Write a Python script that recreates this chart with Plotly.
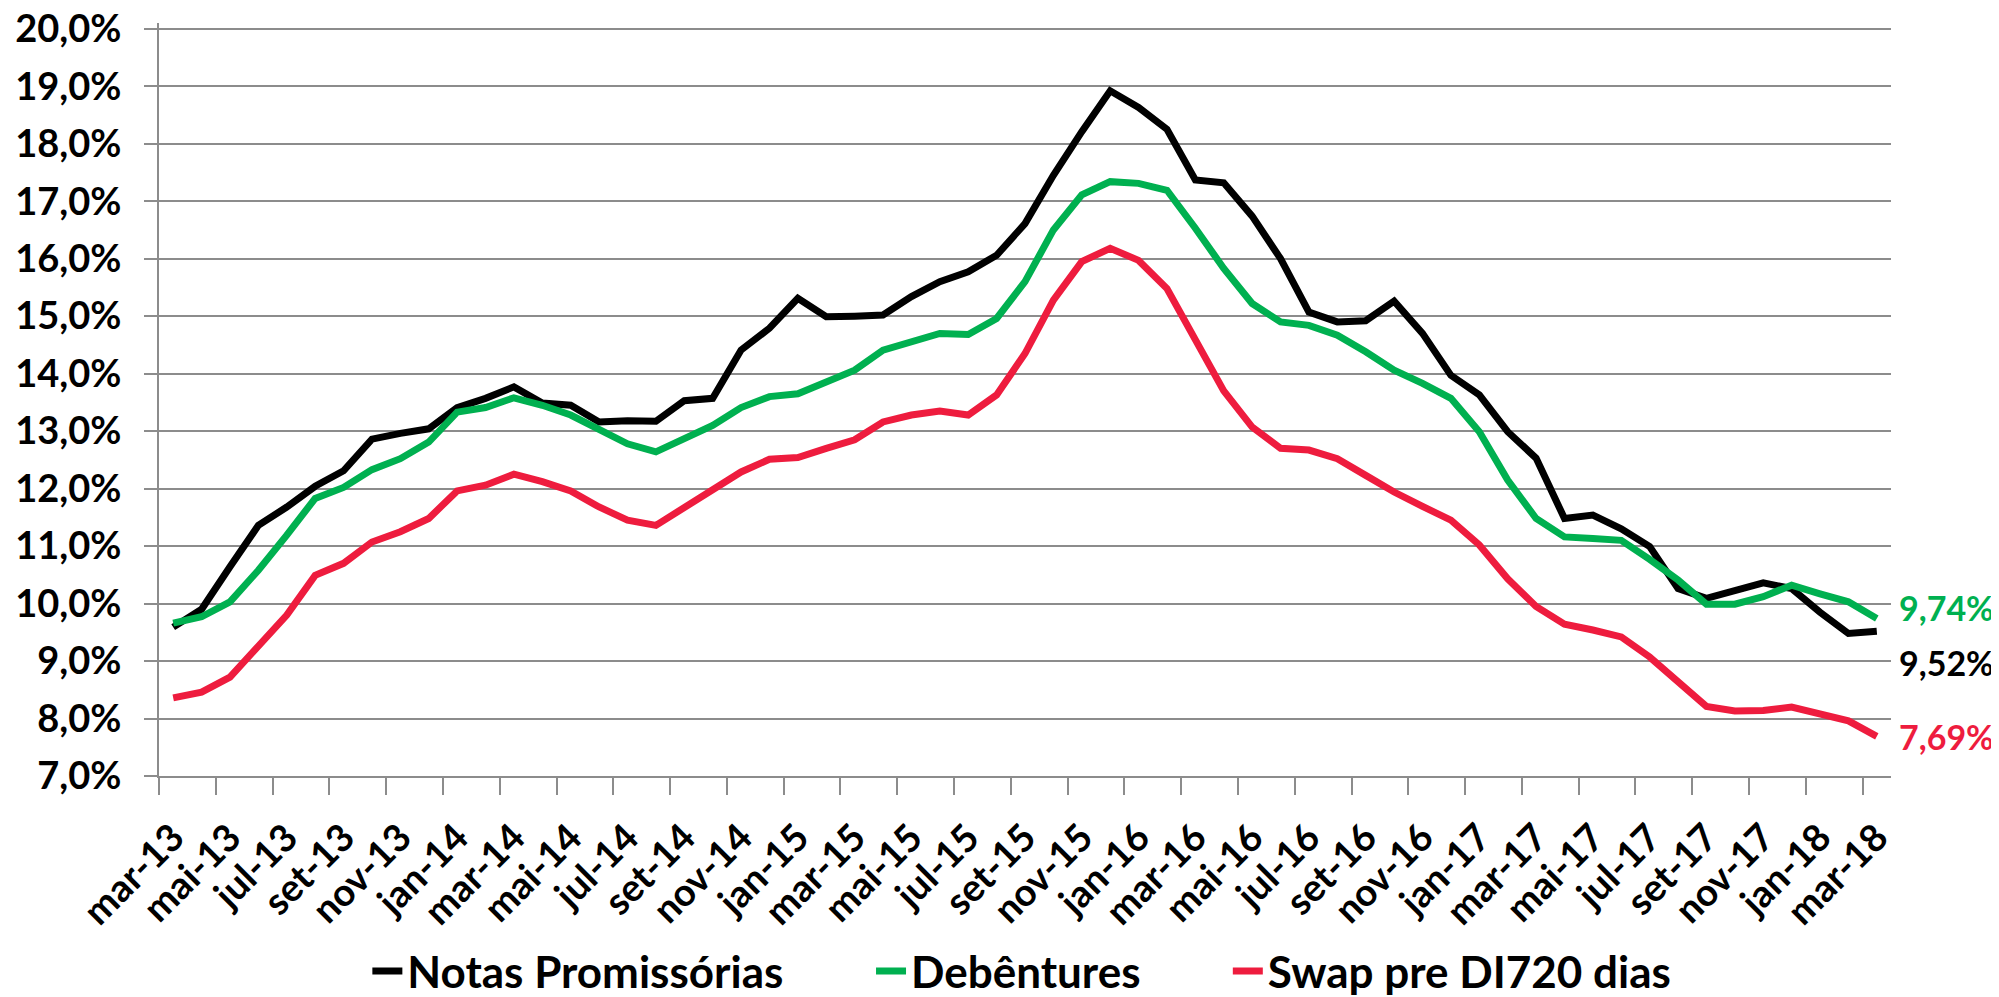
import plotly.graph_objects as go

categories = [
    "mar-13", "abr-13", "mai-13", "jun-13", "jul-13", "ago-13", "set-13", "out-13", "nov-13", "dez-13",
    "jan-14", "fev-14", "mar-14", "abr-14", "mai-14", "jun-14", "jul-14", "ago-14", "set-14", "out-14",
    "nov-14", "dez-14", "jan-15", "fev-15", "mar-15", "abr-15", "mai-15", "jun-15", "jul-15", "ago-15",
    "set-15", "out-15", "nov-15", "dez-15", "jan-16", "fev-16", "mar-16", "abr-16", "mai-16", "jun-16",
    "jul-16", "ago-16", "set-16", "out-16", "nov-16", "dez-16", "jan-17", "fev-17", "mar-17", "abr-17",
    "mai-17", "jun-17", "jul-17", "ago-17", "set-17", "out-17", "nov-17", "dez-17", "jan-18", "fev-18",
    "mar-18",
]

notas_promissorias = [
    9.59, 9.90, 10.64, 11.36, 11.68, 12.04, 12.31, 12.86, 12.96, 13.04,
    13.41, 13.57, 13.77, 13.49, 13.45, 13.16, 13.18, 13.17, 13.53, 13.57,
    14.41, 14.79, 15.31, 14.99, 15.00, 15.02, 15.34, 15.60, 15.77, 16.06,
    16.61, 17.45, 18.21, 18.92, 18.63, 18.25, 17.37, 17.32, 16.74, 16.00,
    15.07, 14.90, 14.92, 15.26, 14.70, 13.97, 13.63, 12.99, 12.53, 11.48,
    11.54, 11.30, 10.99, 10.26, 10.09, 10.23, 10.36, 10.26, 9.85, 9.48,
    9.52,
]

debentures = [
    9.66, 9.77, 10.03, 10.58, 11.19, 11.83, 12.02, 12.33, 12.52, 12.81,
    13.33, 13.41, 13.58, 13.45, 13.28, 13.02, 12.78, 12.64, 12.86, 13.10,
    13.41, 13.60, 13.65, 13.84, 14.06, 14.41, 14.57, 14.70, 14.68, 14.96,
    15.60, 16.50, 17.11, 17.34, 17.31, 17.19, 16.53, 15.83, 15.22, 14.90,
    14.84, 14.67, 14.38, 14.06, 13.83, 13.57, 12.99, 12.15, 11.48, 11.16,
    11.13, 11.10, 10.77, 10.41, 9.99, 9.99, 10.12, 10.32, 10.17, 10.03,
    9.74,
]

swap_di720 = [
    8.36, 8.46, 8.72, 9.25, 9.80, 10.49, 10.70, 11.07, 11.25, 11.48,
    11.96, 12.06, 12.25, 12.12, 11.96, 11.68, 11.45, 11.36, 11.66, 11.98,
    12.29, 12.51, 12.54, 12.70, 12.85, 13.16, 13.28, 13.35, 13.28, 13.63,
    14.35, 15.28, 15.95, 16.18, 15.97, 15.48, 14.58, 13.70, 13.07, 12.70,
    12.67, 12.52, 12.23, 11.94, 11.69, 11.45, 11.02, 10.43, 9.95, 9.64,
    9.54, 9.42, 9.07, 8.64, 8.21, 8.13, 8.14, 8.20, 8.09, 7.96,
    7.69,
]

series_names = ["Notas Promissórias", "Debêntures", "Swap pre DI720 dias"]
series_colors = ["#000000", "#00B050", "#EE1C3E"]
series_values = [notas_promissorias, debentures, swap_di720]
series_legends = ["legend", "legend2", "legend3"]
legend_x = [0.1203, 0.4111, 0.6171]
end_label_shift = [-31, 11, 0]

y_ticks = [7, 8, 9, 10, 11, 12, 13, 14, 15, 16, 17, 18, 19, 20]
y_tick_labels = ["7,0%", "8,0%", "9,0%", "10,0%", "11,0%", "12,0%", "13,0%",
                 "14,0%", "15,0%", "16,0%", "17,0%", "18,0%", "19,0%", "20,0%"]

FONT = "Lato, 'Open Sans', sans-serif"
GRID = "#8c8c8c"
TICK_FONT = dict(family=FONT, size=38, color="black", weight="bold")
LEGEND_FONT = dict(family=FONT, size=44, color="black", weight="bold")

x_idx = list(range(len(categories)))
label_idx = x_idx[::2]
label_text = categories[::2]
boundary_ticks = [i - 0.5 for i in x_idx[::2]]

fig = go.Figure()
for name, color, vals, lg in zip(series_names, series_colors, series_values, series_legends):
    fig.add_trace(go.Scatter(
        x=x_idx, y=vals, name=name, mode="lines",
        line=dict(color=color, width=7),
        hoverinfo="skip", legend=lg,
    ))

for color, vals, ys in zip(series_colors, series_values, end_label_shift):
    fig.add_annotation(
        x=x_idx[-1], y=vals[-1], xref="x", yref="y",
        text=f"{vals[-1]:.2f}%".replace(".", ","),
        showarrow=False, xanchor="left", yanchor="middle",
        xshift=20, yshift=ys,
        font=dict(family=FONT, size=34, color=color, weight="bold"),
    )

legend_common = dict(orientation="h", y=-0.2594, yanchor="middle", xanchor="left",
                     font=LEGEND_FONT, bgcolor="rgba(0,0,0,0)", borderwidth=0,
                     itemwidth=30)

# page body has an 8px default margin: figure is sized/offset to compensate
fig.update_layout(
    width=1991, height=989,
    margin=dict(l=150.5, r=107.5, t=14.96, b=221.3, autoexpand=False),
    paper_bgcolor="white", plot_bgcolor="white",
    font=dict(family=FONT, size=38, color="black", weight="bold"),
    showlegend=True,
    legend=dict(x=legend_x[0], **legend_common),
    legend2=dict(x=legend_x[1], **legend_common),
    legend3=dict(x=legend_x[2], **legend_common),
    xaxis=dict(
        range=[-0.5, len(categories) - 0.5],
        tickmode="array", tickvals=label_idx, ticktext=label_text,
        tickangle=-45, ticks="", ticklabelstandoff=22,
        ticklabeloverflow="allow",
        showgrid=False, zeroline=False, automargin=False,
        showline=True, linecolor=GRID, linewidth=2,
        tickfont=TICK_FONT,
        minor=dict(tickmode="array", tickvals=boundary_ticks, ticks="outside",
                   ticklen=17, tickwidth=2, tickcolor=GRID, showgrid=False),
    ),
    yaxis=dict(
        range=[7, 20.1],
        tickmode="array", tickvals=y_ticks, ticktext=y_tick_labels,
        ticks="outside", ticklen=13, tickwidth=2, tickcolor=GRID,
        ticklabelstandoff=15, automargin=False,
        ticklabeloverflow="allow",
        showgrid=True, gridcolor=GRID, gridwidth=2,
        zeroline=False, showline=True, linecolor=GRID, linewidth=2,
        tickfont=TICK_FONT,
    ),
)

fig.write_html("out.html")
